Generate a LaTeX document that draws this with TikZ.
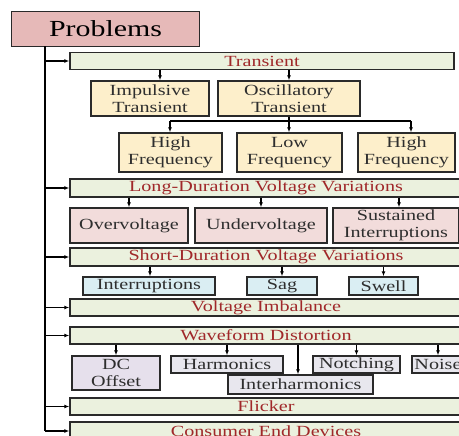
\documentclass[tikz,border=0pt]{standalone}
\usepackage{fontspec}
\setmainfont[FakeStretch=1.3]{Liberation Serif}
\usetikzlibrary{arrows.meta}
\definecolor{barfill}{HTML}{EBF1DE}
\definecolor{barText}{HTML}{A0282A}
\definecolor{probfill}{HTML}{E6B9B8}
\definecolor{yelfill}{HTML}{FDEFCB}
\definecolor{pinkfill}{HTML}{F2DCDB}
\definecolor{bluefill}{HTML}{DAEEF3}
\definecolor{lavfill}{HTML}{E6E0EC}
\definecolor{grayfill}{HTML}{E8E7EE}
\definecolor{edge}{HTML}{2A2A2A}
\definecolor{txt}{HTML}{2E2E2E}
\tikzset{
  box/.style={draw=edge, line width=1.4pt, inner sep=0pt, align=center, text=txt,
    font=\fontsize{15.5}{16.5}\selectfont},
  bar/.style={box, fill=barfill, text=barText, minimum height=17pt},
  ybox/.style={box, fill=yelfill},
  pbox/.style={box, fill=pinkfill},
  bbox/.style={box, fill=bluefill, minimum height=18pt},
  lbox/.style={box, fill=lavfill},
  gbox/.style={box, fill=grayfill, minimum height=17pt},
  conn/.style={draw=black, line width=1.1pt},
  arr/.style={conn, -{Latex[length=5pt,width=4pt]}}
}
\begin{document}
\begin{tikzpicture}[x=1pt,y=-1pt]
\useasboundingbox (0,0) rectangle (459,436);
% root
\node[box, fill=probfill, text=black, minimum width=188pt, minimum height=35pt,
  font=\fontsize{23}{25}\selectfont] (prob) at (105.5,29) {Problems};
% bars
\node[bar, minimum width=384pt] (tr) at (262,61) {Transient};
\node[bar, minimum width=392pt, minimum height=18pt] (ld) at (266,188) {Long-Duration Voltage Variations};
\node[bar, minimum width=392pt, minimum height=18pt] (sd) at (266,257) {Short-Duration Voltage Variations};
\node[bar, minimum width=392pt] (vi) at (266,307.5) {Voltage Imbalance};
\node[bar, minimum width=392pt] (wd) at (266,335.5) {Waveform Distortion};
\node[bar, minimum width=392pt] (fl) at (266,406.5) {Flicker};
\node[bar, minimum width=392pt, minimum height=18pt] (ce) at (266,431) {Consumer End Devices};
% trunk
\coordinate (tk0) at (45,46.5);
\coordinate (tkT) at (45,61);
\coordinate (tkL) at (45,188);
\coordinate (tkS) at (45,257);
\coordinate (tkV) at (45,307.5);
\coordinate (tkW) at (45,335.5);
\coordinate (tkF) at (45,406.5);
\coordinate (tkC) at (45,431);
\draw[conn] (tk0) -- (tkC);
\draw[arr] (tkT) -- (tr.west);
\draw[arr] (tkL) -- (ld.west);
\draw[arr] (tkS) -- (sd.west);
\draw[arr] (tkV) -- (vi.west);
\draw[arr] (tkW) -- (wd.west);
\draw[arr] (tkF) -- (fl.west);
\draw[arr] (tkC) -- (ce.west);
% transient children
\node[ybox, minimum width=118pt, minimum height=35pt] (imp) at (150,98.5) {Impulsive\\Transient};
\node[ybox, minimum width=142pt, minimum height=35pt] (osc) at (289,98.5) {Oscillatory\\Transient};
\draw[arr] (tr.south -| 160,0) -- (imp.north -| 160,0);
\draw[arr] (tr.south -| osc.north) -- (osc.north);
\node[ybox, minimum width=103pt, minimum height=39pt] (hf1) at (170.5,152.5) {High\\Frequency};
\node[ybox, minimum width=105pt, minimum height=39pt] (lf) at (289.5,152.5) {Low\\Frequency};
\node[ybox, minimum width=97pt, minimum height=39pt] (hf2) at (406.5,152.5) {High\\Frequency};
\coordinate (oj) at (289,121);
\coordinate (ojL) at (170,121);
\coordinate (ojR) at (411,121);
\draw[conn] (osc.south) -- (oj);
\draw[conn] (ojL) -- (ojR);
\draw[arr] (ojL) -- (hf1.north -| ojL);
\draw[arr] (oj) -- (lf.north -| oj);
\draw[arr] (ojR) -- (hf2.north -| ojR);
% long duration children
\node[pbox, minimum width=118pt, minimum height=35pt] (ov) at (129,225.5) {Overvoltage};
\node[pbox, minimum width=132pt, minimum height=35pt] (uv) at (261,225.5) {Undervoltage};
\node[pbox, minimum width=126pt, minimum height=35pt] (si) at (396,225.5) {Sustained\\Interruptions};
\draw[arr] (ld.south -| ov.north) -- (ov.north);
\draw[arr] (ld.south -| uv.north) -- (uv.north);
\draw[arr] (ld.south -| 399,0) -- (si.north -| 399,0);
% short duration children
\node[bbox, minimum width=132pt] (intr) at (149,286) {Interruptions};
\node[bbox, minimum width=70pt] (sag) at (282,286) {Sag};
\node[bbox, minimum width=69pt] (sw) at (383.5,286) {Swell};
\draw[arr] (sd.south -| 150,0) -- (intr.north -| 150,0);
\draw[arr] (sd.south -| sag.north) -- (sag.north);
\draw[arr] (sd.south -| sw.north) -- (sw.north);
% waveform children
\node[lbox, minimum width=88pt, minimum height=34pt] (dc) at (116,373) {DC\\Offset};
\node[gbox, minimum width=112pt] (har) at (227,364.5) {Harmonics};
\node[gbox, minimum width=87pt] (notch) at (356.5,364.5) {Notching};
\node[gbox, minimum width=52pt] (noise) at (438,364.5) {Noise};
\node[gbox, minimum width=145pt, minimum height=19pt] (ih) at (300.5,384.5) {Interharmonics};
\draw[arr] (wd.south -| dc.north) -- (dc.north);
\draw[arr] (wd.south -| har.north) -- (har.north);
\draw[arr] (wd.south -| 298,0) -- (ih.north -| 298,0);
\draw[arr] (wd.south -| notch.north) -- (notch.north);
\draw[arr] (wd.south -| noise.north) -- (noise.north);
\end{tikzpicture}
\end{document}
